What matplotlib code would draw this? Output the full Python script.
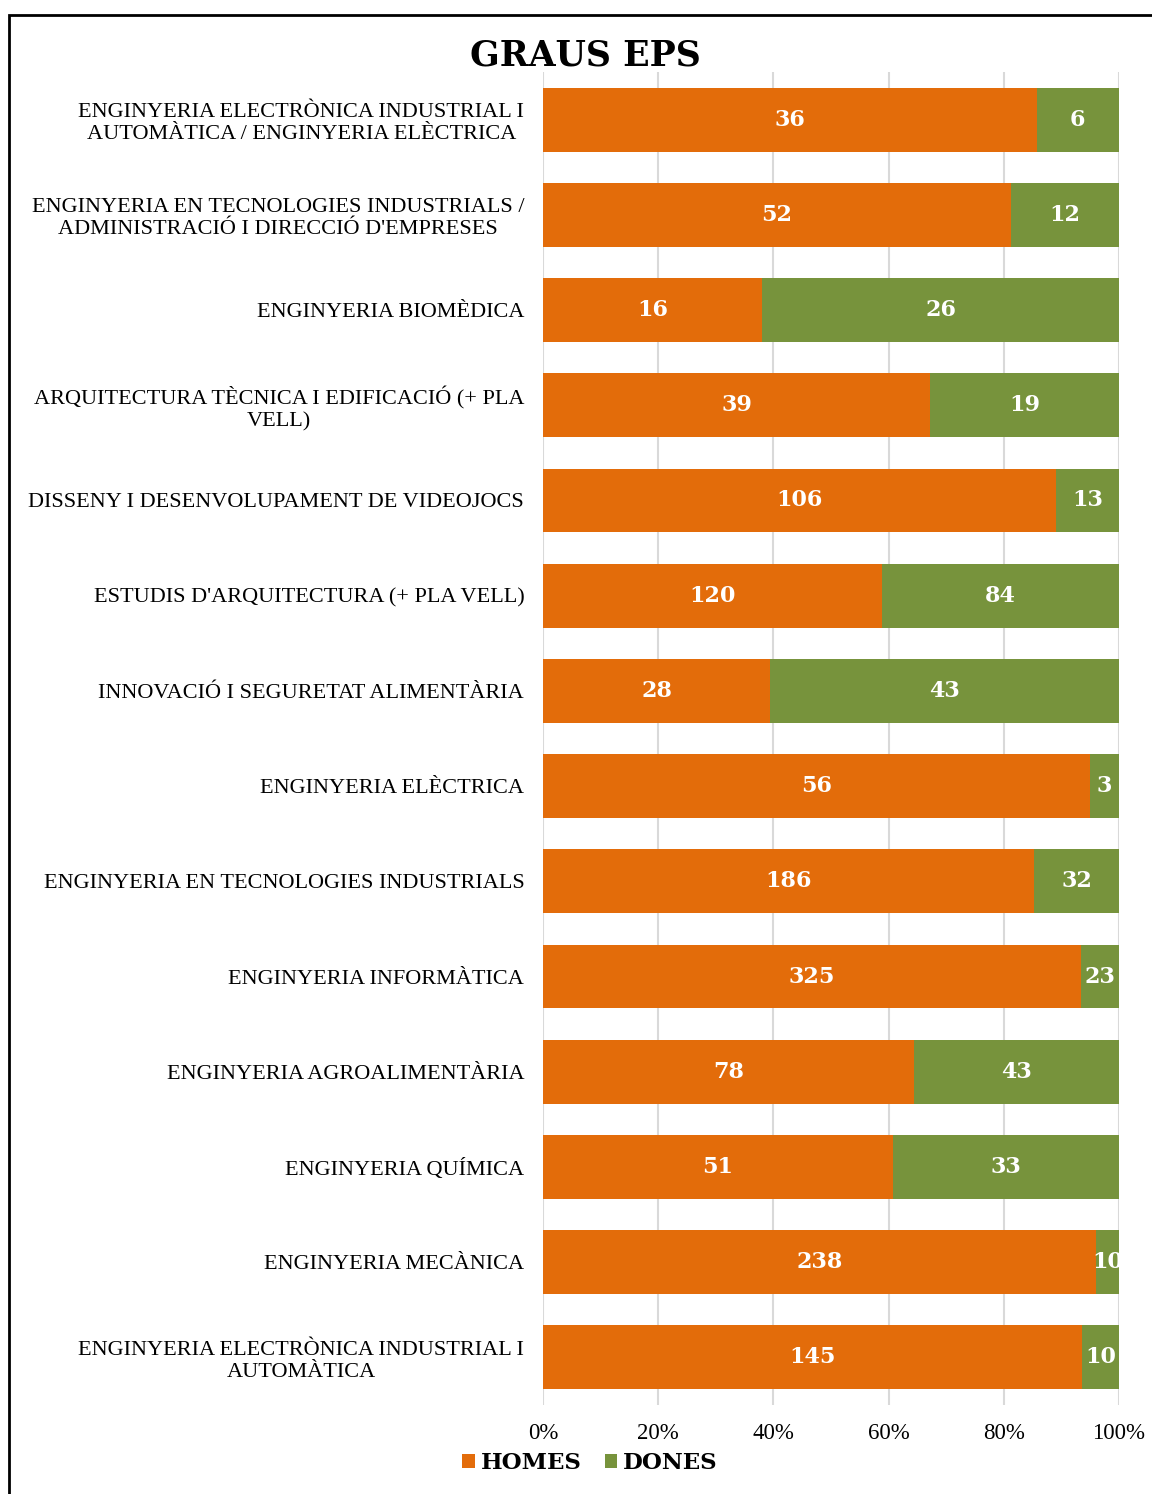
import numpy as np
import matplotlib.pyplot as plt
from matplotlib.patches import Rectangle

categories = [
    "ENGINYERIA ELECTRÒNICA INDUSTRIAL I\nAUTOMÀTICA / ENGINYERIA ELÈCTRICA",
    "ENGINYERIA EN TECNOLOGIES INDUSTRIALS /\nADMINISTRACIÓ I DIRECCIÓ D'EMPRESES",
    "ENGINYERIA BIOMÈDICA",
    "ARQUITECTURA TÈCNICA I EDIFICACIÓ (+ PLA\nVELL)",
    "DISSENY I DESENVOLUPAMENT DE VIDEOJOCS",
    "ESTUDIS D'ARQUITECTURA (+ PLA VELL)",
    "INNOVACIÓ I SEGURETAT ALIMENTÀRIA",
    "ENGINYERIA ELÈCTRICA",
    "ENGINYERIA EN TECNOLOGIES INDUSTRIALS",
    "ENGINYERIA INFORMÀTICA",
    "ENGINYERIA AGROALIMENTÀRIA",
    "ENGINYERIA QUÍMICA",
    "ENGINYERIA MECÀNICA",
    "ENGINYERIA ELECTRÒNICA INDUSTRIAL I\nAUTOMÀTICA",
]
homes = [36, 52, 16, 39, 106, 120, 28, 56, 186, 325, 78, 51, 238, 145]
dones = [6, 12, 26, 19, 13, 84, 43, 3, 32, 23, 43, 33, 10, 10]
xticks = [0, 0.2, 0.4, 0.6, 0.8, 1.0]
xticklabels = ["0%", "20%", "40%", "60%", "80%", "100%"]

ORANGE = "#E36C0A"
GREEN = "#77933C"
serif = ["Liberation Serif", "DejaVu Serif"]
heavy = ["DejaVu Serif"]
plt.rcParams["font.family"] = serif

h = np.array(homes, dtype=float)
d = np.array(dones, dtype=float)
tot = h + d
ph = h / tot
pd_ = d / tot
y = np.arange(len(categories))

fig = plt.figure(figsize=(11.52, 14.94), dpi=100)
ax = fig.add_axes([543 / 1152, 89 / 1494, 576 / 1152, 1333 / 1494])

b1 = ax.barh(y, ph, height=0.67, color=ORANGE, label="HOMES", zorder=3)
b2 = ax.barh(y, pd_, left=ph, height=0.67, color=GREEN, label="DONES", zorder=3)

for i in range(len(y)):
    ax.text(ph[i] / 2, y[i], str(homes[i]), ha="center", va="center",
            color="white", fontsize=16, fontweight="bold", family=heavy, zorder=4)
    ax.text(ph[i] + pd_[i] / 2, y[i], str(dones[i]), ha="center", va="center",
            color="white", fontsize=16, fontweight="bold", family=heavy, zorder=4)

ax.set_xlim(0, 1)
ax.set_ylim(len(categories) - 0.5, -0.5)
ax.set_xticks(xticks)
ax.set_xticklabels(xticklabels, fontsize=16.5)
ax.set_yticks(y)
ax.set_yticklabels(categories, fontsize=16, linespacing=1.2, multialignment="center")
ax.tick_params(axis="both", length=0)
ax.tick_params(axis="y", pad=13.5)
ax.tick_params(axis="x", pad=13)
ax.grid(axis="x", color="#D9D9D9", linewidth=1.5, zorder=0)
for s in ax.spines.values():
    s.set_visible(False)

fig.text(585 / 1152, 1 - 55 / 1494, "GRAUS EPS", ha="center", va="center",
         fontsize=25, fontweight="bold", family=heavy)

fig.legend(handles=[b1, b2], loc="center", bbox_to_anchor=(590 / 1152, 1 - 1463 / 1494),
           ncol=2, frameon=False, handlelength=0.55, handleheight=0.55,
           handletextpad=0.25, columnspacing=1.0,
           prop={"family": heavy, "weight": "bold", "size": 16.5})

# outer border (left and top visible)
fig.patches.append(Rectangle((9 / 1152, -0.05), 1.2, 1 - 15 / 1494 + 0.05,
                             transform=fig.transFigure, fill=False,
                             edgecolor="black", linewidth=2))

fig.savefig("out.png", dpi=100)
